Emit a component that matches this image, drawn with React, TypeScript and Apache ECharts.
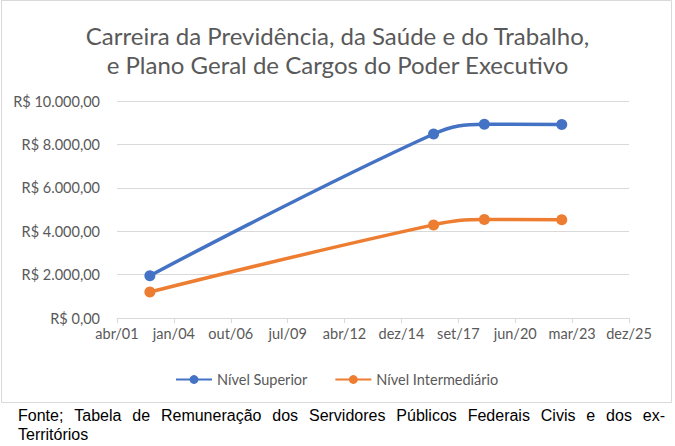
import React, { useEffect, useRef } from "react";
import * as echarts from "echarts";

const titleLines = [
  "Carreira da Previdência, da Saúde e do Trabalho,",
  "e Plano Geral de Cargos do Poder Executivo",
];
const seriesNames = ["Nível Superior", "Nível Intermediário"];
const pointDates = ["2002-11-20", "2016-07-16", "2018-12-25", "2022-09-16"];
const superiorValues = [1950, 8480, 8930, 8920];
const intermediarioValues = [1200, 4290, 4540, 4530];
const monthNames = ["jan", "fev", "mar", "abr", "mai", "jun", "jul", "ago", "set", "out", "nov", "dez"];
const axisStartDate = "2001-04-21";
const axisStepDays = 1000;
const axisSteps = 9;
const footerLine1 = "Fonte; Tabela de Remuneração dos Servidores Públicos Federais Civis e dos ex-";
const footerLine2 = "Territórios";

const DAY = 86400000;
const toDay = (s: string) => Math.round(Date.parse(s + "T00:00:00Z") / DAY);
const startDay = toDay(axisStartDate);

const fmtDate = (off: number) => {
  const d = new Date((startDay + off) * DAY);
  const m = monthNames[d.getUTCMonth()];
  const y = String(d.getUTCFullYear() % 100).padStart(2, "0");
  return `${m}/${y}`;
};

const fmtMoney = (v: number) => {
  const s = Math.round(v).toString().replace(/\B(?=(\d{3})+(?!\d))/g, ".");
  return `R$ ${s},00`;
};

export default function App() {
  const ref = useRef<HTMLDivElement>(null);
  useEffect(() => {
    if (!ref.current) return;
    const chart = echarts.init(ref.current, null, { renderer: "svg" });
    const labelColor = "#595959";
    const gridColor = "#d9d9d9";
    const font = "Lato, 'Open Sans', sans-serif";

    // justified footer line 1
    const footFont = "'Liberation Sans Narrow', 'Liberation Sans', Arial, sans-serif";
    const footSize = 16;
    const cv = document.createElement("canvas");
    const ctx = cv.getContext("2d")!;
    ctx.font = `${footSize}px ${footFont}`;
    const words = footerLine1.split(" ");
    const widths = words.map((w) => ctx.measureText(w).width);
    const left = 18, right = 665;
    const total = widths.reduce((a, b) => a + b, 0);
    const gap = (right - left - total) / (words.length - 1);
    let x = left;
    const footerEls: any[] = words.map((w, i) => {
      const el = {
        type: "text",
        x,
        y: 415,
        style: { text: w, font: `${footSize}px ${footFont}`, fill: "#000", textVerticalAlign: "middle" },
      };
      x += widths[i] + gap;
      return el;
    });
    footerEls.push({
      type: "text",
      x: left,
      y: 434,
      style: { text: footerLine2, font: `${footSize}px ${footFont}`, fill: "#000", textVerticalAlign: "middle" },
    });

    const mk = (vals: number[]) => pointDates.map((d, i) => [toDay(d) - startDay, vals[i]]);

    chart.setOption({
      animation: false,
      textStyle: { fontFamily: font },
      title: {
        text: titleLines.join("\n"),
        left: "center",
        top: 16,
        textStyle: { fontFamily: font, fontSize: 24, fontWeight: "normal", color: labelColor, lineHeight: 29 },
      },
      legend: {
        top: 367,
        left: 170,
        itemWidth: 36,
        itemHeight: 11,
        itemGap: 27,
        textStyle: { fontFamily: font, fontSize: 14.5, color: labelColor },
        data: seriesNames,
      },
      grid: { left: 117, right: 46, top: 101, bottom: 128, containLabel: false },
      xAxis: {
        type: "value",
        min: 0,
        max: axisStepDays * axisSteps,
        interval: axisStepDays,
        axisLine: { show: true, lineStyle: { color: gridColor } },
        axisTick: { show: true, length: 5, lineStyle: { color: gridColor } },
        splitLine: { show: false },
        axisLabel: { formatter: (v: number) => fmtDate(v), color: labelColor, fontSize: 14.5, fontFamily: font, margin: 8 },
      },
      yAxis: {
        type: "value",
        min: 0,
        max: 10000,
        interval: 2000,
        axisLine: { show: false },
        axisTick: { show: false },
        splitLine: { lineStyle: { color: gridColor, width: 1 } },
        axisLabel: { formatter: (v: number) => fmtMoney(v), color: labelColor, fontSize: 14.5, fontFamily: font, margin: 17 },
      },
      series: [
        {
          name: seriesNames[0],
          type: "line",
          data: mk(superiorValues),
          smooth: 0.4,
          symbol: "circle",
          symbolSize: 11,
          itemStyle: { color: "#4472C4" },
          lineStyle: { width: 3.5, color: "#4472C4" },
        },
        {
          name: seriesNames[1],
          type: "line",
          data: mk(intermediarioValues),
          smooth: 0.4,
          symbol: "circle",
          symbolSize: 11,
          itemStyle: { color: "#ED7D31" },
          lineStyle: { width: 3.5, color: "#ED7D31" },
        },
      ],
      graphic: [
        {
          type: "rect",
          shape: { x: 1.5, y: 0.5, width: 670, height: 402 },
          style: { fill: "none", stroke: gridColor, lineWidth: 1 },
          silent: true,
        },
        ...footerEls,
      ],
    });
    return () => chart.dispose();
  }, []);
  return (
    <div
      ref={ref}
      style={{ position: "fixed", left: 0, top: 0, width: 675, height: 446, background: "#fff" }}
    />
  );
}
